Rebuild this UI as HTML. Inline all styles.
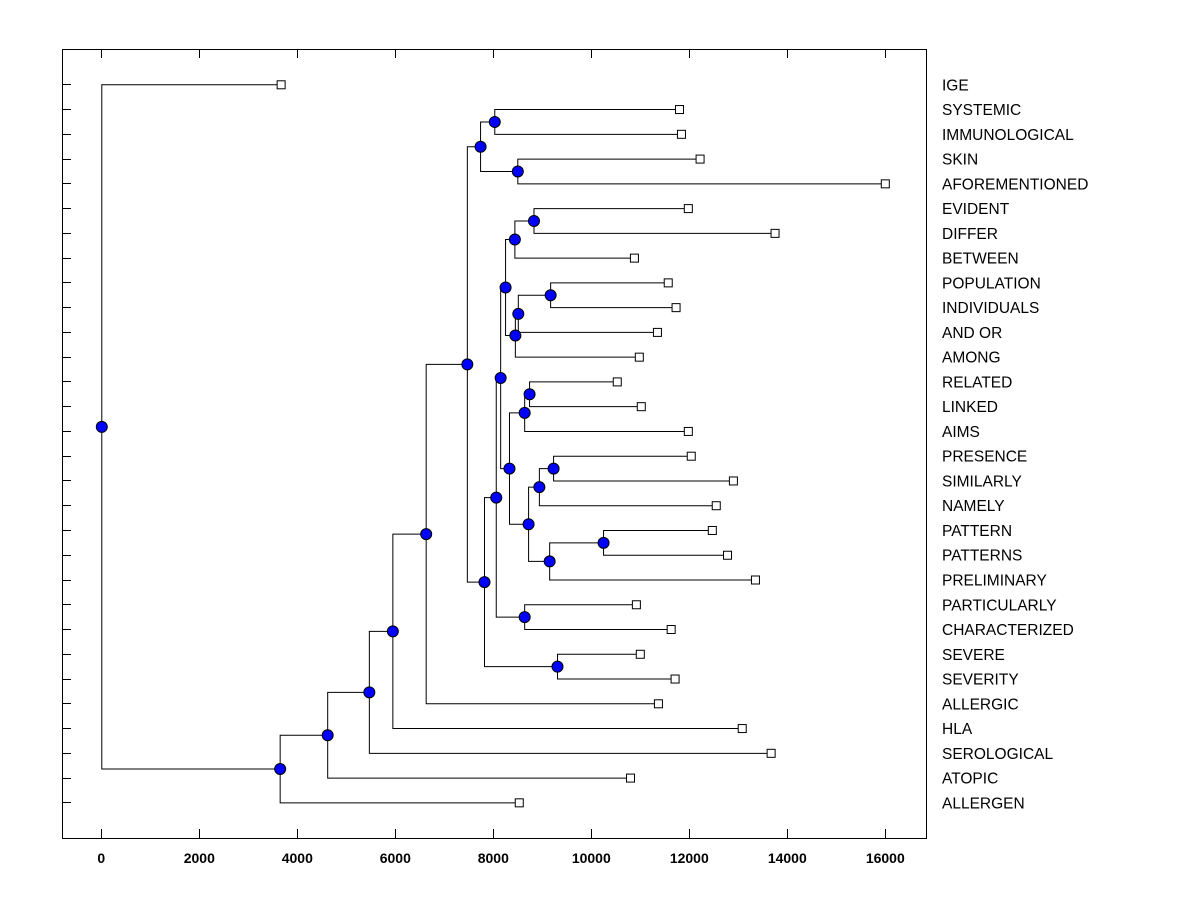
<!DOCTYPE html>
<html><head><meta charset="utf-8"><style>
body{margin:0;background:#fff;}
svg{display:block;font-family:"Liberation Sans",Arial,sans-serif;}
</style></head><body>
<svg id="chart" width="1200" height="900" viewBox="0 0 1200 900" xmlns="http://www.w3.org/2000/svg">
<rect x="0" y="0" width="1200" height="900" fill="#fff"/>
<g id="g"></g>
</svg>
<script>
const leafNames=["IGE","SYSTEMIC","IMMUNOLOGICAL","SKIN","AFOREMENTIONED","EVIDENT","DIFFER","BETWEEN","POPULATION","INDIVIDUALS","AND OR","AMONG","RELATED","LINKED","AIMS","PRESENCE","SIMILARLY","NAMELY","PATTERN","PATTERNS","PRELIMINARY","PARTICULARLY","CHARACTERIZED","SEVERE","SEVERITY","ALLERGIC","HLA","SEROLOGICAL","ATOPIC","ALLERGEN"];
const leafValues=[3670,11800,11840,12220,16000,11980,13750,10880,11570,11730,11350,10980,10530,11020,11980,12040,12900,12550,12470,12780,13350,10920,11630,11000,11710,11370,13080,13670,10800,8530];
const mergeLeft=["L1","L3","N0","L5","N3","L8","N5","N6","N4","L12","N9","L15","N11","L18","N13","N12","N10","N8","L21","N17","L23","N19","N2","N22","N23","N24","N25","N26","L0"];
const mergeRight=["L2","L4","N1","L6","L7","L9","L10","L11","N7","L13","L14","L16","L17","L19","L20","N14","N15","N16","L22","N18","L24","N20","N21","L25","L26","L27","L28","L29","N27"];
const mergeHeights=[8020,8490,7730,8820,8430,9160,8500,8440,8240,8730,8630,9220,8930,10240,9140,8710,8320,8140,8630,8050,9300,7810,7460,6620,5940,5460,4610,3640,0];
const xTicks=[0,2000,4000,6000,8000,10000,12000,14000,16000];

const PL=62,PR=926,PT=49,PB=838;
const xs=v=>101.3+v*0.049;
const ys=i=>84.3+i*24.76;
const NS="http://www.w3.org/2000/svg";
const g=document.getElementById('g');
function mk(t,a){const e=document.createElementNS(NS,t);for(const k in a)e.setAttribute(k,a[k]);g.appendChild(e);return e;}

const fr=mk('rect',{x:PL+0.5,y:PT+0.5,width:PR-PL,height:PB-PT,fill:'none',stroke:'#000','stroke-width':1});


xTicks.forEach(t=>{
  const x=Math.round(xs(t))+0.5;
  const a=mk('line',{x1:x,y1:PB,x2:x,y2:PB-9,stroke:'#000'});
  
  
  const b=mk('line',{x1:x,y1:PT,x2:x,y2:PT+9,stroke:'#000'});
  
  
  const l=mk('text',{x:xs(t),y:863,'text-anchor':'middle','font-size':14,'font-weight':'bold'});
  l.textContent=t;
  
  
});
leafNames.forEach((n,i)=>{
  const y=Math.round(ys(i))+0.5;
  const a=mk('line',{x1:PL,y1:y,x2:PL+9,y2:y,stroke:'#000'});
  
  
  const l=mk('text',{x:942,y:ys(i)+6,'font-size':15.5,'textLength':0});
  l.removeAttribute('textLength');
  l.textContent=n;
  
  
});
const pos={};
leafNames.forEach((n,i)=>{pos['L'+i]={x:xs(leafValues[i]),y:ys(i)};});
mergeHeights.forEach((h,i)=>{
  const a=pos[mergeLeft[i]],b=pos[mergeRight[i]];
  pos['N'+i]={x:xs(h),y:(a.y+b.y)/2};
});
mergeHeights.forEach((h,i)=>{
  const n=pos['N'+i],a=pos[mergeLeft[i]],b=pos[mergeRight[i]];
  const p=mk('path',{d:`M${a.x},${a.y+0.5}H${n.x+0.5}V${b.y+0.5}H${b.x}`,fill:'none',stroke:'#000','stroke-width':1});
  
  
});
leafNames.forEach((n,i)=>{
  const p=pos['L'+i];
  const r=mk('rect',{x:p.x-4,y:p.y-3.5,width:8,height:8,fill:'#fff',stroke:'#000'});
  
  
});
mergeHeights.forEach((h,i)=>{
  const p=pos['N'+i];
  const c=mk('circle',{cx:p.x+0.5,cy:p.y+0.5,r:5.5,fill:'#0000ff',stroke:'#000','stroke-width':1});
  
  
});
</script>
</body></html>
